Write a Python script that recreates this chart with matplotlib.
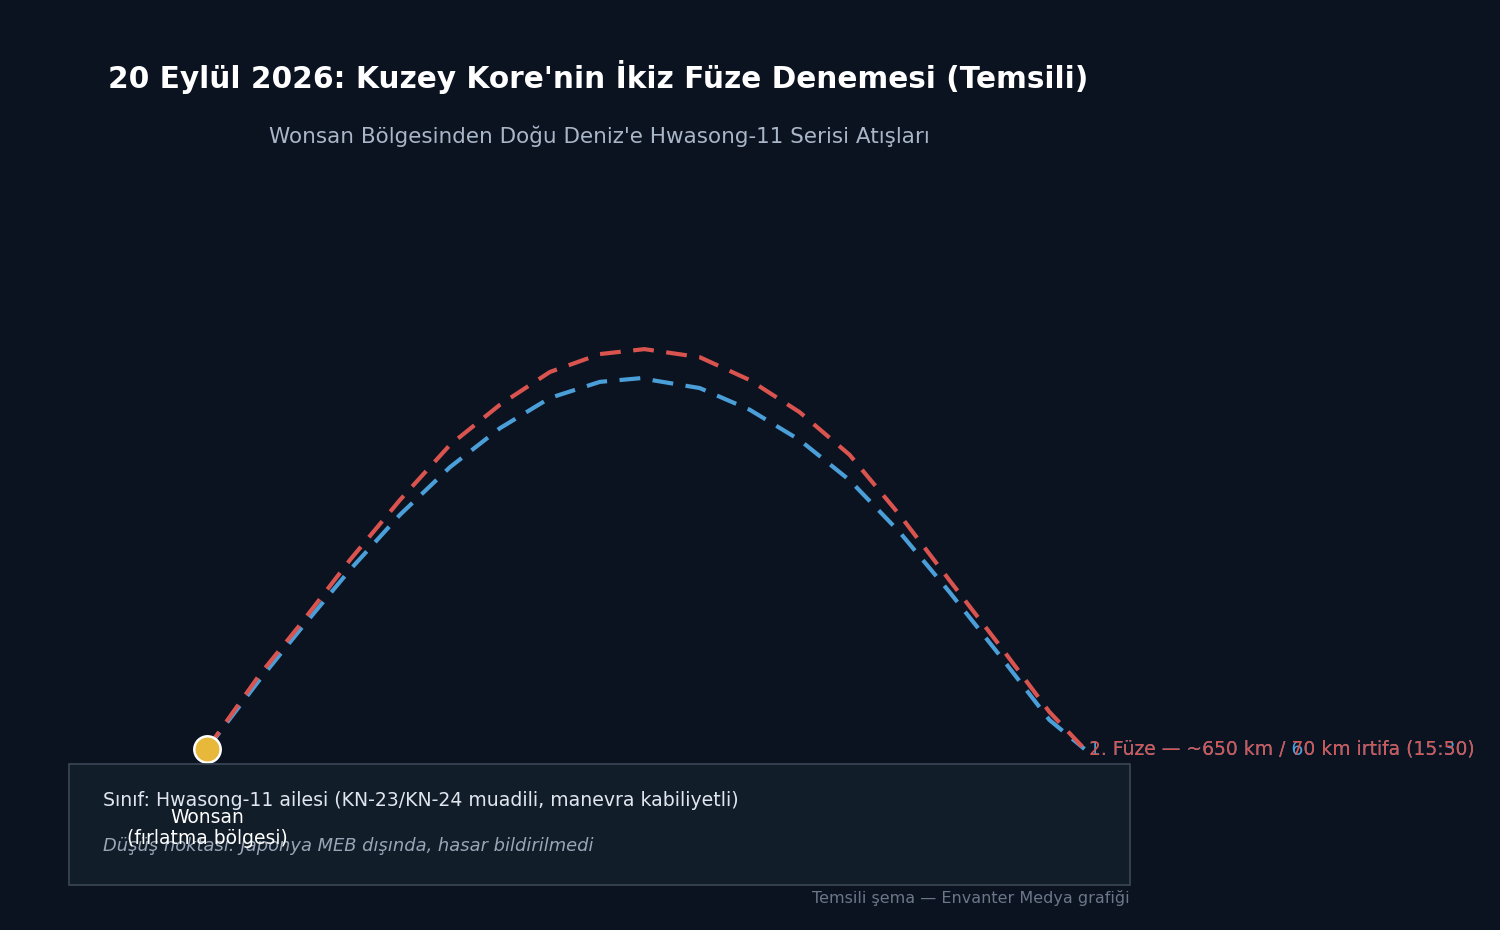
import matplotlib
matplotlib.use("Agg")
import matplotlib.pyplot as plt
from matplotlib.patches import Rectangle

plt.rcParams["font.family"] = ["DejaVu Sans"]

# data (km downrange, km altitude)
blue_x = [0, 39, 69, 106, 143, 180, 217, 254, 291, 321, 365, 402, 439, 476, 513, 550, 587, 624, 650]
blue_y = [0, 11.2, 19.3, 29.0, 37.9, 45.6, 51.9, 56.8, 59.4, 60.0, 58.4, 54.9, 50.0, 43.5, 35.1, 25.4, 15.2, 4.7, 0]
red_x = [0, 39, 69, 106, 143, 180, 217, 254, 291, 324, 365, 402, 439, 476, 513, 550, 587, 624, 650]
red_y = [0, 12.0, 20.1, 30.6, 40.3, 49.2, 55.7, 61.0, 63.9, 64.7, 63.4, 59.7, 54.5, 47.6, 37.9, 27.3, 16.8, 6.0, 0]
blue_label = "1. Füze — ~650 km / 60 km irtifa (15:30)"
red_label = "2. Füze — ~650 km / 70 km irtifa (15:50)"

BG = "#0b1220"
fig = plt.figure(figsize=(15, 9.3), dpi=100, facecolor=BG)
ax = fig.add_axes([0, 0, 1, 1])
ax.set_facecolor(BG)
ax.set_xlim(-153.3, 957.8)
ax.set_ylim(-29.3, 121.2)
ax.axis("off")

ax.plot(blue_x, blue_y, color="#4a9fd8", lw=3, ls=(0, (5, 3)), zorder=3)
ax.plot(red_x, red_y, color="#d9534f", lw=3, ls=(0, (5, 3)), zorder=4)
ax.text(blue_x[-1] + 3, 0, blue_label, color="#4a9fd8", fontsize=13.5, va="center", ha="left", zorder=5)
ax.text(red_x[-1] + 3, 0, red_label, color="#d9534f", fontsize=13.5, va="center", ha="left", zorder=6)
ax.plot([0], [0], "o", ms=19, mfc="#e8b83a", mec="white", mew=1.8, zorder=7)

fig.patches.append(Rectangle((69/1500, 1-885/930), (1130-69)/1500, (885-764)/930,
                             transform=fig.transFigure, facecolor="#121d2a", edgecolor="#3a4756", lw=1.2, zorder=1))
fig.text(103/1500, 1-800/930, "Sınıf: Hwasong-11 ailesi (KN-23/KN-24 muadili, manevra kabiliyetli)",
         color="#dfe6ee", fontsize=13.6, va="center", zorder=2)
fig.text(103/1500, 1-846/930, "Düşüş noktası: Japonya MEB dışında, hasar bildirilmedi",
         color="#9aa6b6", fontsize=12.9, style="italic", va="center", zorder=2)
fig.text(207/1500, 1-828/930, "Wonsan\n(fırlatma bölgesi)", color="white", fontsize=13.5, ha="center", va="center",
         linespacing=1.15, zorder=8)
fig.text(1130/1500, 1-898/930, "Temsili şema — Envanter Medya grafiği", color="#6b7789", fontsize=11.5,
         ha="right", va="center")

fig.text(108/1500, 1-77/930, "20 Eylül 2026: Kuzey Kore'nin İkiz Füze Denemesi (Temsili)",
         color="white", fontsize=21.3, weight="bold", va="center")
fig.text(599/1500, 1-136/930, "Wonsan Bölgesinden Doğu Deniz'e Hwasong-11 Serisi Atışları",
         color="#a9b6c8", fontsize=15.5, ha="center", va="center")

fig.savefig("out.png", dpi=100, facecolor=BG)
